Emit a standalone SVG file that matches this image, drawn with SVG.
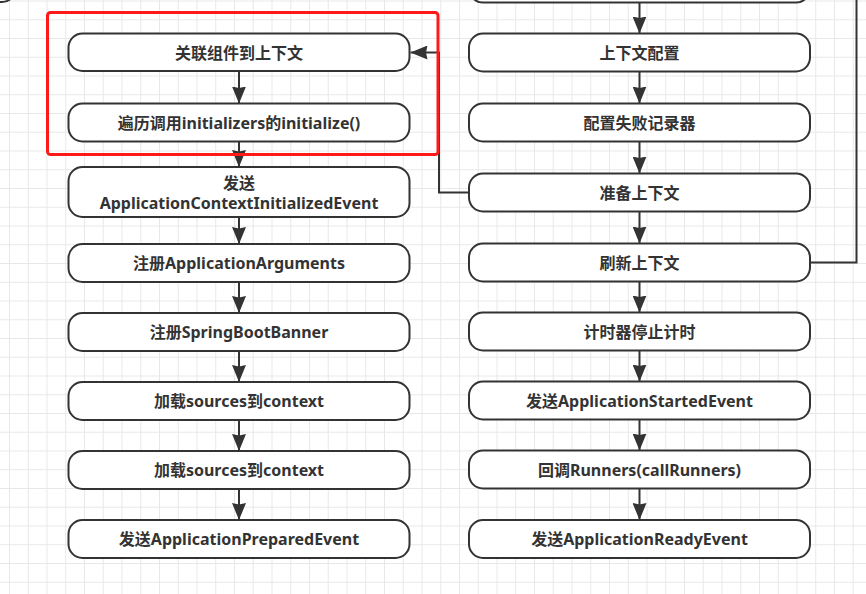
<svg xmlns="http://www.w3.org/2000/svg" width="866" height="594" viewBox="0 0 866 594">
<defs>
<pattern id="grid" x="9" y="0.5" width="18.75" height="18.75" patternUnits="userSpaceOnUse">
<path d="M0 0.5H18.75M0.5 0V18.75" fill="none" stroke="#e8e8e8" stroke-width="1"/>
</pattern>
<marker id="arr" viewBox="0 0 17 14" refX="17" refY="7" markerWidth="17" markerHeight="14" markerUnits="userSpaceOnUse" orient="auto">
<path d="M0 0L17 7L0 14L1.5 7Z" fill="#333"/>
</marker>
</defs>
<style>
.n rect{fill:#fff;stroke:#333;stroke-width:2}
.n text{font-family:"Noto Sans","Noto Sans CJK SC",sans-serif;font-weight:bold;font-size:16px;fill:#333;text-anchor:middle;dominant-baseline:central}
.c path{fill:none;stroke:#333;stroke-width:2}
</style>
<rect width="866" height="594" fill="#fff"/>
<rect width="866" height="594" fill="url(#grid)"/>
<g id="edges" class="c">
<path d="M239 71V103.5" marker-end="url(#arr)"/>
<path d="M239 141.5V167" marker-end="url(#arr)"/>
<path d="M239 217V244" marker-end="url(#arr)"/>
<path d="M239 282V313" marker-end="url(#arr)"/>
<path d="M239 351V382" marker-end="url(#arr)"/>
<path d="M239 420V451" marker-end="url(#arr)"/>
<path d="M239 489V520" marker-end="url(#arr)"/>
<path d="M639.5 2.5V33.5" marker-end="url(#arr)"/>
<path d="M639.5 71.5V103.5" marker-end="url(#arr)"/>
<path d="M639.5 141.5V173.5" marker-end="url(#arr)"/>
<path d="M639.5 211.5V243.5" marker-end="url(#arr)"/>
<path d="M639.5 281.5V312.5" marker-end="url(#arr)"/>
<path d="M639.5 350.5V381.5" marker-end="url(#arr)"/>
<path d="M639.5 419.5V450.5" marker-end="url(#arr)"/>
<path d="M639.5 488.5V520" marker-end="url(#arr)"/>
<path d="M469 192.5H439V52.5H410.5" marker-end="url(#arr)"/>
<path d="M810 262.5H856.5V-5"/>
</g>
<g id="prev-left" class="n"><rect x="-330" y="-40" width="346" height="42" rx="14"/></g>
<g id="prev-right" class="n"><rect x="469" y="-36" width="341" height="38.5" rx="14"/></g>
<g id="L1" class="n"><rect x="68.5" y="33.5" width="341" height="37.5" rx="14"/><text x="239" y="52.5">关联组件到上下文</text></g>
<g id="L2" class="n"><rect x="68.5" y="103.5" width="341" height="38" rx="14"/><text x="239" y="122.5">遍历调用initializers的initialize()</text></g>
<g id="L3" class="n"><rect x="68.5" y="167" width="341" height="50" rx="14"/><text x="239" y="182.5">发送</text><text x="239" y="202.5">ApplicationContextInitializedEvent</text></g>
<g id="L4" class="n"><rect x="68.5" y="244" width="341" height="38" rx="14"/><text x="239" y="263">注册ApplicationArguments</text></g>
<g id="L5" class="n"><rect x="68.5" y="313" width="341" height="38" rx="14"/><text x="239" y="332">注册SpringBootBanner</text></g>
<g id="L6" class="n"><rect x="68.5" y="382" width="341" height="38" rx="14"/><text x="239" y="401">加载sources到context</text></g>
<g id="L7" class="n"><rect x="68.5" y="451" width="341" height="38" rx="14"/><text x="239" y="470">加载sources到context</text></g>
<g id="L8" class="n"><rect x="68.5" y="520" width="341" height="38" rx="14"/><text x="239" y="539">发送ApplicationPreparedEvent</text></g>
<g id="R1" class="n"><rect x="469" y="33.5" width="341" height="38" rx="14"/><text x="639.5" y="52.5">上下文配置</text></g>
<g id="R2" class="n"><rect x="469" y="103.5" width="341" height="38" rx="14"/><text x="639.5" y="122.5">配置失败记录器</text></g>
<g id="R3" class="n"><rect x="469" y="173.5" width="341" height="38" rx="14"/><text x="639.5" y="192.5">准备上下文</text></g>
<g id="R4" class="n"><rect x="469" y="243.5" width="341" height="38" rx="14"/><text x="639.5" y="262.5">刷新上下文</text></g>
<g id="R5" class="n"><rect x="469" y="312.5" width="341" height="38" rx="14"/><text x="639.5" y="331.5">计时器停止计时</text></g>
<g id="R6" class="n"><rect x="469" y="381.5" width="341" height="38" rx="14"/><text x="639.5" y="400.5">发送ApplicationStartedEvent</text></g>
<g id="R7" class="n"><rect x="469" y="450.5" width="341" height="38" rx="14"/><text x="639.5" y="469.5">回调Runners(callRunners)</text></g>
<g id="R8" class="n"><rect x="469" y="520" width="341" height="38" rx="14"/><text x="639.5" y="539">发送ApplicationReadyEvent</text></g>
<rect id="highlight" x="47.5" y="12.5" width="390.5" height="142" rx="3" fill="none" stroke="#ff1a1a" stroke-width="3"/>
</svg>
